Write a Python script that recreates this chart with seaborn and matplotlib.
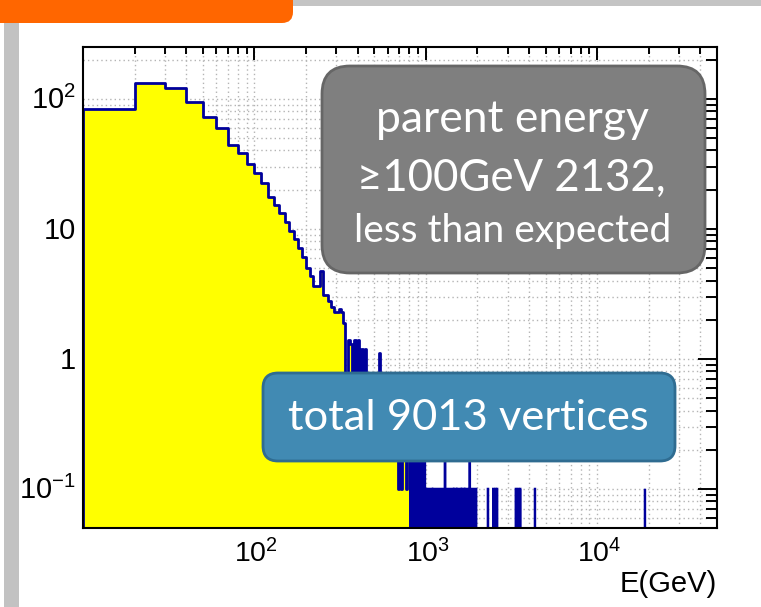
import numpy as np
import pandas as pd
import matplotlib
matplotlib.use("Agg")
import matplotlib.pyplot as plt
from matplotlib.patches import FancyBboxPatch, Rectangle
from matplotlib.transforms import IdentityTransform, blended_transform_factory, offset_copy
from matplotlib.ticker import FixedLocator, LogLocator, NullFormatter
import seaborn as sns

# ---- data: vertex energy spectrum, 10 GeV bins ---------------------------
bin_width = 10
main_start = 10  # first drawn bin starts at 10 GeV
main_values = [
    84, 132, 121, 94, 73, 60, 44, 38, 31.6, 27, 22.5, 17.7, 15.3, 13.2, 11.2,
    9.7, 8.4, 7.1, 6.1, 5.0, 4.3, 3.6, 3.6, 4.7, 3.1, 3.1, 2.8, 2.5, 2.3, 2.3,
    2.4, 2.3, 1.9,
    # 340 .. 800 GeV
    0.5, 1.4, 1.3, 0.5, 1.4, 0.6, 1.4, 0.5, 1.2, 0.4, 1.2, 0.5, 0.3, 0.6, 0.4,
    0.3, 0.5, 0.4, 0.3, 1.1, 0.3, 0.4, 0.3, 0.5, 0.3, 0.4, 0.3, 0.2, 0.4, 0.3,
    0.2, 0.3, 0.2, 0.3, 0.2, 0.1, 0.3, 0.2, 0.1, 0.3, 0.2, 0.3, 0.2, 0.1, 0.3,
    0.2, 0.2,
]
# high-energy tail (beyond 810 GeV): sparse bins
tail_start, tail_stop = 810, 50000
tail_dense_runs = [(810, 1970)]                    # every bin filled at 0.1
tail_empty_bins = [1090, 1450, 1510, 1610, 1680]   # empty bins inside the run
tail_peak_bins = [810, 830, 850, 870, 890, 910, 940, 960, 980, 1290, 1800]  # 0.2
tail_isolated_bins = [2300, 2470, 2540, 2600, 3350, 3450, 3550, 4330, 19000]
single_weight = 0.1

x_ticks = [100, 1000, 10000]
x_tick_labels = [r"$\mathregular{10^{2}}$", r"$\mathregular{10^{3}}$",
                 r"$\mathregular{10^{4}}$"]
y_ticks = [0.1, 1, 10, 100]
y_tick_labels = [r"$\mathregular{10^{-1}}$", "1", "10", r"$\mathregular{10^{2}}$"]
x_title = "E(GeV)"

box_top_lines = ["parent energy", "\u2265100GeV 2132,"]
box_bottom_line = "less than expected"
total_text = "total 9013 vertices"

# ---- styling ------------------------------------------------------------
W, H, DPI = 761, 607, 100
YELLOW = "#ffff00"
NAVY = "#00009c"
XLABEL_SIZE, YLABEL_SIZE = 20.5, 21
sns.set_theme(style="white")
plt.rcParams["font.family"] = ["Liberation Sans", "DejaVu Sans"]
plt.rcParams["mathtext.default"] = "regular"

fig = plt.figure(figsize=(W / DPI, H / DPI), dpi=DPI)
fig.patch.set_facecolor("white")

left, right, top, bottom = 83, 717, 47, 528
ax = fig.add_axes([left / W, 1 - bottom / H, (right - left) / W, (bottom - top) / H])
ax.set_facecolor("white")

# ---- main histogram ------------------------------------------------------
main_edges = main_start + bin_width * np.arange(len(main_values) + 1)
main_df = pd.DataFrame({"E": main_edges[:-1] + bin_width / 2,
                        "w": np.asarray(main_values, dtype=float)})
sns.histplot(data=main_df, x="E", weights="w", bins=main_edges.tolist(),
             element="step", fill=True, color=YELLOW, alpha=1.0,
             edgecolor=NAVY, linewidth=2.0, ax=ax, zorder=2)

# ---- tail ---------------------------------------------------------------
tail_edges = np.arange(tail_start, tail_stop + bin_width, bin_width)
tail_values = np.zeros(len(tail_edges) - 1)
lefts = tail_edges[:-1]
for a, b in tail_dense_runs:
    tail_values[(lefts >= a) & (lefts < b)] = single_weight
for e in tail_empty_bins:
    tail_values[lefts == e] = 0.0
for e in tail_peak_bins:
    tail_values[lefts == e] = 2 * single_weight
for e in tail_isolated_bins:
    tail_values[lefts == e] = single_weight
floor = 1e-3
tail_plot = np.where(tail_values > 0, tail_values, floor)
ax.stairs(tail_plot, tail_edges, fill=True, color=NAVY, baseline=floor, zorder=2)
ax.stairs(tail_plot, tail_edges, color=NAVY, linewidth=1.6, baseline=floor, zorder=2)

# ---- axes ---------------------------------------------------------------
ax.set_xscale("log")
ax.set_yscale("log")
ax.set_xlim(10, 50000)
ax.set_ylim(0.05, 250)
ax.set_xlabel("")
ax.set_ylabel("")

ax.xaxis.set_major_locator(FixedLocator([10] + x_ticks))
ax.xaxis.set_minor_locator(LogLocator(base=10, subs=np.arange(2, 10)))
ax.yaxis.set_major_locator(FixedLocator(y_ticks))
ax.yaxis.set_minor_locator(LogLocator(base=10, subs=np.arange(2, 10)))
for axis in (ax.xaxis, ax.yaxis):
    axis.set_major_formatter(NullFormatter())
    axis.set_minor_formatter(NullFormatter())

ax.tick_params(axis="both", which="both", direction="in", top=True, right=True,
               color="black", width=1.4)
ax.tick_params(axis="y", which="major", length=14)
ax.tick_params(axis="y", which="minor", length=8)
ax.tick_params(axis="x", which="major", length=9.5)
ax.tick_params(axis="x", which="minor", length=5)
for s in ax.spines.values():
    s.set_color("black")
    s.set_linewidth(1.5)
    s.set_zorder(5)

# tick labels, ROOT style
xlab_tr = offset_copy(blended_transform_factory(ax.transData, ax.transAxes),
                      fig=fig, x=2, y=-11, units="dots")
for v, lab in zip(x_ticks, x_tick_labels):
    ax.text(v, 0, lab, transform=xlab_tr, ha="center", va="top",
            fontsize=XLABEL_SIZE, color="black")
ylab_tr = offset_copy(blended_transform_factory(ax.transAxes, ax.transData),
                      fig=fig, x=-7, y=-2, units="dots")
for v, lab in zip(y_ticks, y_tick_labels):
    ax.text(0, v, lab, transform=ylab_tr, ha="right", va="center",
            fontsize=YLABEL_SIZE, color="black")
ax.text(1.0, -0.088, x_title, transform=ax.transAxes, ha="right", va="top",
        fontsize=21, color="black")

# dotted grid at every tick, kept underneath the histogram
xs = [v for v in list(ax.xaxis.get_majorticklocs()) + list(ax.xaxis.get_minorticklocs())
      if 10 < v < 50000]
ys = [v for v in list(ax.yaxis.get_majorticklocs()) + list(ax.yaxis.get_minorticklocs())
      if 0.05 < v < 250]
ax.vlines(xs, 0.05, 250, colors="#b4b4b4", linestyles=(0, (1, 2.2)), linewidth=1.0, zorder=0.5)
ax.hlines(ys, 10, 50000, colors="#b4b4b4", linestyles=(0, (1, 2.2)), linewidth=1.0, zorder=0.5)
ax.set_xlim(10, 50000)
ax.set_ylim(0.05, 250)

# ---- slide decorations ---------------------------------------------------
px = IdentityTransform()
fig.patches.append(Rectangle((293, H - 6), W - 293, 6, transform=px,
                             facecolor="#c4c4c4", edgecolor="none", zorder=0))
fig.patches.append(Rectangle((4, 0), 15, H - 23, transform=px,
                             facecolor="#c2c2c2", edgecolor="none", zorder=0))
fig.patches.append(FancyBboxPatch((-30, H - 23), 323, 60, transform=px,
                                  boxstyle="round,pad=0,rounding_size=11",
                                  facecolor="#ff6600", edgecolor="none", zorder=1))

# annotation boxes
gray_box = FancyBboxPatch((322, H - 273), 383, 207, transform=px,
                          boxstyle="round,pad=0,rounding_size=28",
                          facecolor="#7f7f7f", edgecolor="#666666", linewidth=2,
                          zorder=10)
fig.patches.append(gray_box)
blue_box = FancyBboxPatch((263, H - 461), 412, 88, transform=px,
                          boxstyle="round,pad=0,rounding_size=15",
                          facecolor="#418ab3", edgecolor="#2f6c91", linewidth=2,
                          zorder=10)
fig.patches.append(blue_box)

box_font = ["Lato", "DejaVu Sans"]
fig.text(513 / W, 1 - 120 / H, box_top_lines[0], ha="center", va="center",
         fontsize=32, color="white", family=box_font, zorder=11)
fig.text(511 / W, 1 - 178 / H, box_top_lines[1], ha="center", va="center",
         fontsize=31.5, color="white", family=box_font, zorder=11)
fig.text(513 / W, 1 - 231 / H, box_bottom_line, ha="center", va="center",
         fontsize=28, color="white", family=box_font, zorder=11)
fig.text(468 / W, 1 - 418 / H, total_text, ha="center", va="center",
         fontsize=31.3, color="white", family=box_font, zorder=11)

fig.savefig("out.png", dpi=DPI)
